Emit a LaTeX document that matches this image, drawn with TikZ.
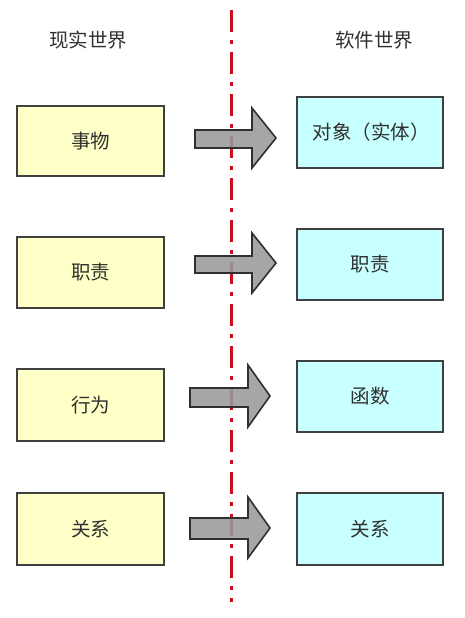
\documentclass[tikz,border=0pt]{standalone}
\usepackage{fontspec}
\newfontfamily\cjk{Noto Sans CJK SC}
\definecolor{boxline}{HTML}{404040}
\definecolor{realfill}{HTML}{FFFFC8}
\definecolor{softfill}{HTML}{C8FFFF}
\definecolor{arrowfill}{HTML}{9A9A9A}
\definecolor{arrowline}{HTML}{303030}
\definecolor{divred}{HTML}{C8101E}
\definecolor{txt}{HTML}{303030}
\begin{document}
\begin{tikzpicture}[x=1pt,y=-1pt,
  cjktext/.style={font=\cjk\fontsize{19.5}{21}\selectfont, text=txt, inner sep=0pt},
  realbox/.style={draw=boxline, line width=2pt, fill=realfill},
  softbox/.style={draw=boxline, line width=2pt, fill=softfill},
  blockarrow/.style={draw=arrowline, line width=1.6pt, fill=arrowfill, fill opacity=0.88, line join=miter},
  divider/.style={draw=divred, line width=3pt, dash pattern=on 22pt off 8pt on 4pt off 8pt}]
\useasboundingbox (0,0) rectangle (464,618);
\fill[white] (0,0) rectangle (464,618);

\node[cjktext] (tl) at (88,40) {现实世界};
\node[cjktext] (tr) at (374,40) {软件世界};

\coordinate (dtop) at (231,10);
\coordinate (dbot) at (231,602);
\draw[divider] (dtop) -- (dbot);

% left boxes
\path[realbox] (17,106) rectangle (164,176);
\node[cjktext] (l1) at (90.5,141) {事物};
\path[realbox] (17,237) rectangle (164,308);
\node[cjktext] (l2) at (90.5,272.5) {职责};
\path[realbox] (17,369) rectangle (164,441);
\node[cjktext] (l3) at (90.5,405) {行为};
\path[realbox] (17,493) rectangle (164,565);
\node[cjktext] (l4) at (90.5,529) {关系};

% right boxes
\path[softbox] (297,97) rectangle (443,168);
\node[cjktext] (r1) at (371,132.5) {对象（实体）};
\path[softbox] (297,229) rectangle (443,300);
\node[cjktext] (r2) at (370,264.5) {职责};
\path[softbox] (297,361) rectangle (443,432);
\node[cjktext] (r3) at (370,396.5) {函数};
\path[softbox] (297,493) rectangle (443,565);
\node[cjktext] (r4) at (370,529) {关系};

% block arrows
\path[blockarrow] (195,130) -- (252,130) -- (252,108) -- (276,138) -- (252,168) -- (252,148) -- (195,148) -- cycle;
\path[blockarrow] (195,256) -- (252,256) -- (252,233) -- (276,263) -- (252,293) -- (252,273) -- (195,273) -- cycle;
\path[blockarrow] (190,388) -- (248,388) -- (248,365) -- (270,396) -- (248,427) -- (248,407) -- (190,407) -- cycle;
\path[blockarrow] (190,518) -- (248,518) -- (248,497) -- (270,528) -- (248,558) -- (248,539) -- (190,539) -- cycle;
\end{tikzpicture}
\end{document}
